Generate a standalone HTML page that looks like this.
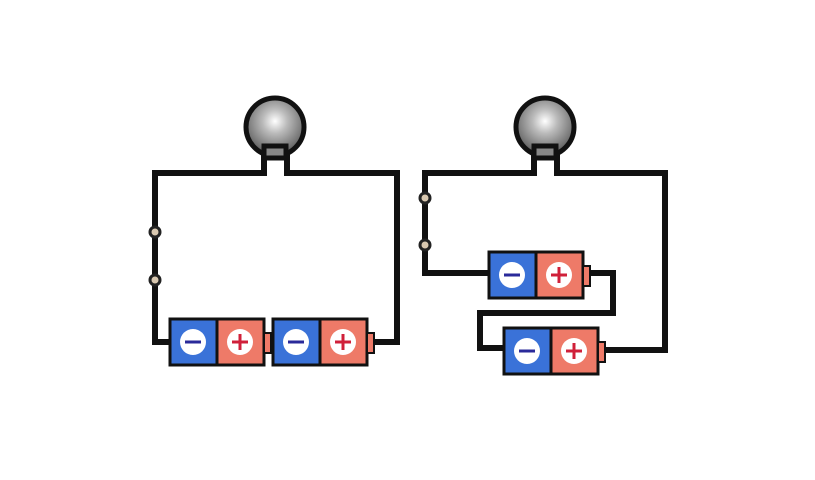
<!DOCTYPE html>
<html><head><style>body{margin:0;background:#fff}svg{display:block}</style></head><body>
<svg width="815" height="480" viewBox="0 0 815 480" xmlns="http://www.w3.org/2000/svg">
<defs>
<radialGradient id="bulb" cx="0.5" cy="0.4" r="0.6">
<stop offset="0" stop-color="#fff"/><stop offset="0.35" stop-color="#bbb"/><stop offset="0.8" stop-color="#777"/><stop offset="1" stop-color="#555"/>
</radialGradient>
<g id="bat">
<rect x="0" y="0" width="47" height="46" fill="#3a72d8" stroke="#111" stroke-width="3"/>
<rect x="47" y="0" width="47" height="46" fill="#ee7a68" stroke="#111" stroke-width="3"/>
<rect x="94" y="14" width="7" height="20" fill="#ee7a68" stroke="#111" stroke-width="2"/>
<circle cx="23" cy="23" r="13" fill="#fff"/>
<line x1="15" y1="23" x2="31" y2="23" stroke="#2a2a9a" stroke-width="3"/>
<circle cx="70" cy="23" r="13" fill="#fff"/>
<line x1="62" y1="23" x2="78" y2="23" stroke="#d0203a" stroke-width="3"/>
<line x1="70" y1="15" x2="70" y2="31" stroke="#d0203a" stroke-width="3"/>
</g>
</defs>
<g fill="none" stroke="#111" stroke-width="6" stroke-linejoin="miter">
<!-- left circuit -->
<polyline points="264,150 264,173 155,173 155,342 172,342"/>
<polyline points="287,150 287,173 397,173 397,342 372,342"/>
<line x1="264" y1="342" x2="275" y2="342"/>
<!-- right circuit -->
<polyline points="534,150 534,173 425,173 425,273 490,273"/>
<polyline points="557,150 557,173 665,173 665,350 602,350"/>
<polyline points="588,273 613,273 613,313 480,313 480,348 505,348"/>
</g>
<!-- bulbs -->
<g stroke="#111" stroke-width="5">
<circle cx="275" cy="127" r="29" fill="url(#bulb)"/>
<rect x="264" y="146" width="22" height="12" fill="#888"/>
<circle cx="545" cy="127" r="29" fill="url(#bulb)"/>
<rect x="534" y="146" width="22" height="12" fill="#888"/>
</g>
<!-- switch nodes -->
<g fill="#d9c8b0" stroke="#222" stroke-width="3">
<circle cx="155" cy="232" r="5"/><circle cx="155" cy="280" r="5"/>
<circle cx="425" cy="198" r="5"/><circle cx="425" cy="245" r="5"/>
</g>
<use href="#bat" x="170" y="319"/>
<use href="#bat" x="273" y="319"/>
<use href="#bat" x="489" y="252"/>
<use href="#bat" x="504" y="328"/>
</svg>
</body></html>
